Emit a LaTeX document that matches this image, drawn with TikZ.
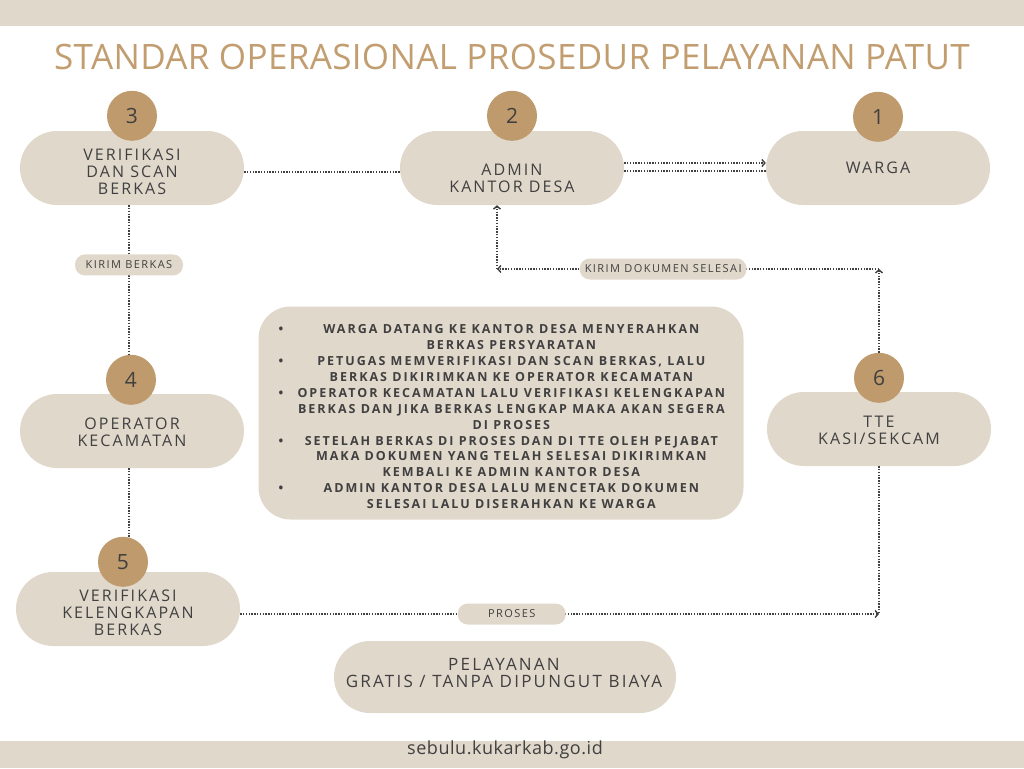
\documentclass[tikz,border=0pt]{standalone}
\usepackage{fontspec}
\usepackage{array}
\setmainfont{Open Sans}
\newfontfamily\pillfont[LetterSpace=13]{Open Sans}
\newfontfamily\titlefont[LetterSpace=1]{Open Sans}
\newfontfamily\notefont[LetterSpace=16]{Open Sans}
\newfontfamily\tagfont[LetterSpace=13]{Open Sans}
\newfontfamily\sitefont[LetterSpace=3]{Open Sans}
\usetikzlibrary{arrows.meta}

\definecolor{sand}{HTML}{E1D8CC}
\definecolor{tan}{HTML}{BF9A6C}
\definecolor{ink}{HTML}{404040}
\definecolor{titletan}{HTML}{C19D70}

\newcommand{\sopitem}[1]{\textbullet & \begin{tabular}[t]{@{}c@{}}#1\end{tabular}\\}

\tikzset{
  pill/.style={rectangle, rounded corners=37pt, fill=sand, minimum width=224pt,
    minimum height=74pt, inner sep=0pt},
  pilltext/.style={align=center, inner sep=0pt, text=ink,
    font=\pillfont\fontsize{16}{17}\selectfont},
  badge/.style={circle, fill=tan, minimum size=50pt, inner sep=0pt, text=ink,
    font=\fontsize{21}{21}\selectfont},
  tag/.style={rectangle, rounded corners=10pt, fill=sand, minimum height=21pt,
    minimum width=108pt, inner xsep=5pt, inner ysep=0pt, text=ink,
    font=\tagfont\fontsize{11}{11}\selectfont},
  flow/.style={draw=ink, line width=1.4pt, dash pattern=on 1.4pt off 1.4pt},
  >={Straight Barb[length=3pt,width=7pt,line width=1.4pt]}
}

\begin{document}
\begin{tikzpicture}[x=1pt,y=-1pt]
\useasboundingbox (0,0) rectangle (1024,768);
\fill[sand] (0,0) rectangle (1024,26);
\fill[sand] (0,741) rectangle (1024,768);

\node[font=\titlefont\fontsize{35}{35}\selectfont, text=titletan] (title) at (512,57)
  {STANDAR OPERASIONAL PROSEDUR PELAYANAN PATUT};

\node[pill] (n3) at (132,168) {};
\node[pill] (n2) at (512,168) {};
\node[pill] (n1) at (878,168) {};
\node[pill] (n4) at (132,431) {};
\node[pill] (n5) at (128,609) {};
\node[pill] (n6) at (879,429) {};
\node[pill, minimum width=342pt, minimum height=72pt, rounded corners=36pt] (gratis) at (505,677) {};

\node[pilltext] (l3) at (132,172) {VERIFIKASI\\DAN SCAN\\BERKAS};
\node[pilltext] (l2) at (512,178) {ADMIN\\KANTOR DESA};
\node[pilltext] (l1) at (878,168) {WARGA};
\node[pilltext] (l4) at (132,432) {OPERATOR\\KECAMATAN};
\node[pilltext] (l5) at (128,613) {VERIFIKASI\\KELENGKAPAN\\BERKAS};
\node[pilltext] (l6) at (879,430) {TTE\\KASI/SEKCAM};
\node[pilltext, font=\pillfont\fontsize{17}{17}\selectfont] (lg) at (504,673)
  {PELAYANAN\\GRATIS / TANPA DIPUNGUT BIAYA};

\node[badge] (b3) at ([yshift=15pt]n3.north) {3};
\node[badge] (b2) at ([yshift=15pt]n2.north) {2};
\node[badge] (b1) at ([yshift=14pt]n1.north) {1};
\node[badge] (b4) at ([xshift=-1pt,yshift=14pt]n4.north) {4};
\node[badge] (b5) at ([xshift=-5pt,yshift=10pt]n5.north) {5};
\node[badge] (b6) at ([yshift=14pt]n6.north) {6};

\node[rectangle, rounded corners=32pt, fill=sand, minimum width=485pt, minimum height=213pt,
  inner sep=0pt] (box) at (501,413) {};
\node[text=ink, inner sep=0pt, font=\notefont\bfseries\fontsize{12.5}{15.9}\selectfont] (notes)
  at (503,418) {\renewcommand{\arraystretch}{1}%
  \begin{tabular}{@{}l@{\hspace{12pt}}>{\centering\arraybackslash}p{432pt}@{}}
  \sopitem{WARGA DATANG KE KANTOR DESA MENYERAHKAN\\BERKAS PERSYARATAN}
  \sopitem{PETUGAS MEMVERIFIKASI DAN SCAN BERKAS, LALU\\BERKAS DIKIRIMKAN KE OPERATOR KECAMATAN}
  \sopitem{OPERATOR KECAMATAN LALU VERIFIKASI KELENGKAPAN\\BERKAS DAN JIKA BERKAS LENGKAP MAKA AKAN SEGERA\\DI PROSES}
  \sopitem{SETELAH BERKAS DI PROSES DAN DI TTE OLEH PEJABAT\\MAKA DOKUMEN YANG TELAH SELESAI DIKIRIMKAN\\KEMBALI KE ADMIN KANTOR DESA}
  \sopitem{ADMIN KANTOR DESA LALU MENCETAK DOKUMEN\\SELESAI LALU DISERAHKAN KE WARGA}
  \end{tabular}};

\coordinate (c6up) at (879,269);
\coordinate (c2dn) at (497,269);
\coordinate (c56) at (879,614);

\draw[flow] ([yshift=-4pt]n3.east) -- ([yshift=-4pt]n2.west);
\draw[flow,->] ([yshift=5pt]n2.east) -- ([yshift=5pt]n1.west);
\draw[flow] ([yshift=-3pt]n2.east) -- ([yshift=-3pt]n1.west);
\draw[flow] ([xshift=-3pt]n3.south) -- node[tag, pos=0.4] (t34) {KIRIM BERKAS} ([xshift=-2pt]b4.north);
\draw[flow] ([xshift=-3pt]n4.south) -- ([xshift=-3pt]n4.south |- b5.north);
\draw[flow,->] ([yshift=-5pt]n5.east) -- node[tag, pos=0.425] (t56) {PROSES} (c56);
\draw[flow] (n6.south) -- (c56);
\draw[flow,->] (b6.north) -- (c6up);
\draw[flow,->] (c6up) -- node[tag, pos=0.565] (t62) {KIRIM DOKUMEN SELESAI} (c2dn);
\draw[flow,->] (c2dn) -- (c2dn |- n2.south);

\node[font=\sitefont\fontsize{18}{18}\selectfont, text=ink] (site) at (505,750) {sebulu.kukarkab.go.id};
\end{tikzpicture}
\end{document}
